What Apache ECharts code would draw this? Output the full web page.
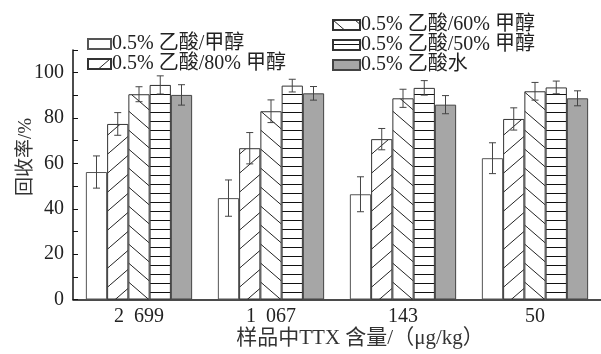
<!DOCTYPE html>
<html>
<head>
<meta charset="utf-8">
<script src="https://cdn.jsdelivr.net/npm/echarts@6/dist/echarts.min.js"></script>
<style>
  html, body { margin: 0; padding: 0; background: #fff; }
  #chart { width: 601px; height: 354px; }
</style>
</head>
<body>
<div id="chart"></div>
<script>
// Recovery (%) of TTX for five extraction solvents at four sample levels
const categories = ['2\u2002699', '1\u2002067', '143', '50'];
const seriesNames = [
  '0.5% 乙酸/甲醇',
  '0.5% 乙酸/80% 甲醇',
  '0.5% 乙酸/60% 甲醇',
  '0.5% 乙酸/50% 甲醇',
  '0.5% 乙酸水'
];
const recMeOH   = [56.2, 44.7, 46.4, 62.3];
const rec80     = [77.4, 66.7, 70.7, 79.6];
const rec60     = [90.5, 83.0, 88.7, 91.8];
const rec50     = [94.6, 94.3, 93.3, 93.5];
const recWater  = [90.2, 90.9, 85.9, 88.7];
const errMeOH   = [7.1, 8.0, 7.7, 6.8];
const err80     = [5.0, 6.9, 4.7, 4.9];
const err60     = [3.3, 5.0, 4.0, 3.9];
const err50     = [4.0, 2.8, 3.2, 2.8];
const errWater  = [4.5, 3.0, 4.0, 3.3];
const yTicks = [0, 20, 40, 60, 80, 100];

const values = [recMeOH, rec80, rec60, rec50, recWater];
const errors = [errMeOH, err80, err60, err50, errWater];

const SERIF = '"Liberation Serif", "Times New Roman", "Noto Sans CJK SC", serif';
const CAT_GAP = 0.195;

// Hatch fills for the bars
function hatch(kind) {
  const c = document.createElement('canvas');
  const ctx = c.getContext('2d');
  if (kind === 'h') {
    c.width = 8; c.height = 9;
    ctx.fillStyle = '#fff'; ctx.fillRect(0, 0, 8, 9);
    ctx.strokeStyle = '#111'; ctx.lineWidth = 1;
    ctx.beginPath(); ctx.moveTo(0, 4.5); ctx.lineTo(8, 4.5); ctx.stroke();
  } else {
    const w = 22, h = 19;
    c.width = w; c.height = h;
    ctx.fillStyle = '#fff'; ctx.fillRect(0, 0, w, h);
    ctx.strokeStyle = '#222'; ctx.lineWidth = 1;
    ctx.beginPath();
    for (let k = -1; k <= 1; k++) {
      if (kind === 'fwd') {
        ctx.moveTo(k * w, h); ctx.lineTo(k * w + w, 0);
      } else {
        ctx.moveTo(k * w, 0); ctx.lineTo(k * w + w, h);
      }
    }
    ctx.stroke();
  }
  return { image: c, repeat: 'repeat' };
}

const fills = [
  { color: '#ffffff', borderColor: '#555' },
  { color: hatch('fwd'), borderColor: '#333' },
  { color: hatch('back'), borderColor: '#333' },
  { color: hatch('h'), borderColor: '#333' },
  { color: '#a6a6a6', borderColor: '#444' }
];

const barSeries = values.map((vals, i) => ({
  name: seriesNames[i],
  type: 'bar',
  data: vals,
  barGap: '0%',
  barCategoryGap: (CAT_GAP * 100) + '%',
  itemStyle: { color: fills[i].color, borderColor: fills[i].borderColor, borderWidth: 1 },
  emphasis: { disabled: true },
  z: 2
}));

const errSeries = values.map((vals, i) => ({
  type: 'custom',
  silent: true,
  z: 5,
  data: vals.map((v, j) => [j, v, errors[i][j]]),
  encode: { x: 0, y: 1 },
  renderItem: function (params, api) {
    const band = api.size([1, 0])[0];
    const bw = band * (1 - CAT_GAP) / 5;
    const cx = api.coord([api.value(0), 0])[0] + (i - 2) * bw;
    const v = api.value(1), e = api.value(2);
    const yt = api.coord([api.value(0), v + e])[1];
    const yb = api.coord([api.value(0), v - e])[1];
    const cap = 3.5;
    const st = { stroke: '#444', lineWidth: 1 };
    return {
      type: 'group',
      children: [
        { type: 'line', shape: { x1: cx, y1: yt, x2: cx, y2: yb }, style: st },
        { type: 'line', shape: { x1: cx - cap, y1: yt, x2: cx + cap, y2: yt }, style: st },
        { type: 'line', shape: { x1: cx - cap, y1: yb, x2: cx + cap, y2: yb }, style: st }
      ]
    };
  }
}));

const legendText = { fontFamily: SERIF, fontSize: 20, lineHeight: 19, color: '#222', padding: [0, 0, 0, -4] };

const chart = echarts.init(document.getElementById('chart'), null, { renderer: 'canvas' });
chart.setOption({
  animation: false,
  backgroundColor: '#fff',
  grid: { left: 73, right: -4, top: 50, bottom: 54.5, containLabel: false },
  legend: [
    {
      data: seriesNames.slice(0, 2),
      orient: 'vertical', left: 82, top: 29,
      icon: 'rect', itemWidth: 23, itemHeight: 10, itemGap: 0,
      textStyle: legendText, selectedMode: false
    },
    {
      data: seriesNames.slice(2),
      orient: 'vertical', left: 327, top: 10,
      icon: 'rect', itemWidth: 27, itemHeight: 10, itemGap: 0,
      textStyle: legendText, selectedMode: false
    }
  ],
  xAxis: {
    type: 'category',
    data: categories,
    axisLine: { lineStyle: { color: '#111', width: 1.5 } },
    axisTick: { inside: true, length: 4, lineStyle: { color: '#111' } },
    axisLabel: { fontFamily: SERIF, fontSize: 20, color: '#222', margin: 7 }
  },
  yAxis: {
    type: 'value',
    min: 0, max: 110, interval: 10,
    splitLine: { show: false },
    axisLine: { show: true, lineStyle: { color: '#111', width: 1.5 } },
    axisTick: { show: true, inside: true, length: 5, lineStyle: { color: '#111' } },
    axisLabel: {
      fontFamily: SERIF, fontSize: 20, color: '#222', margin: 9,
      formatter: v => (yTicks.indexOf(v) >= 0 ? String(v) : '')
    }
  },
  graphic: [
    {
      type: 'text', x: 26, y: 157, rotation: Math.PI / 2,
      style: { text: '回收率/%', fontFamily: SERIF, fontSize: 19, fill: '#333', textAlign: 'center', textVerticalAlign: 'middle' }
    },
    {
      type: 'text', x: 360, y: 338,
      style: { text: '样品中TTX 含量/（μg/kg）', fontFamily: SERIF, fontSize: 21, fill: '#333', textAlign: 'center', textVerticalAlign: 'middle' }
    }
  ],
  series: barSeries.concat(errSeries)
});
</script>
</body>
</html>
